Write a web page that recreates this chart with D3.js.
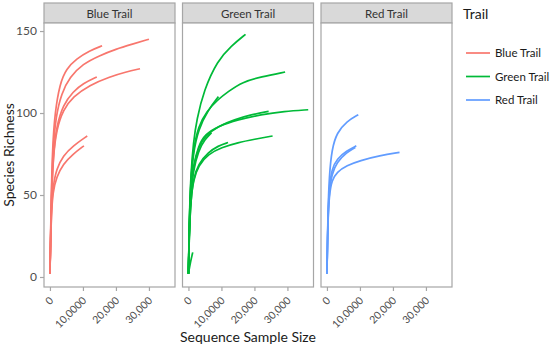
<!DOCTYPE html>
<html>
<head>
<meta charset="utf-8">
<script src="https://cdn.jsdelivr.net/npm/d3@7"></script>
<style>
  body { margin: 0; background: #fff; }
  svg text { font-family: Lato, "Open Sans", sans-serif; }
</style>
</head>
<body>
<svg id="chart"></svg>
<script>
// Chart data: one facet per trail, each a set of rarefaction curves [sample size, richness]
const trails = ["Blue Trail", "Green Trail", "Red Trail"];
const colors = ["#F8766D", "#00BA38", "#619CFF"];

const blueCurves = [
    [[0,2],[400,50],[800,80],[1500,100],[3000,118],[5000,127],[8000,133],[12000,138],[15800,141]],
    [[0,2],[400,48],[900,78],[1800,98],[3500,112],[6000,122],[10000,130],[15000,135],[20000,139],[25000,142],[30000,145]],
    [[0,2],[400,45],[1000,75],[2000,92],[4000,105],[7000,113],[10000,118],[14200,122]],
    [[0,2],[400,45],[1000,74],[2000,90],[4000,102],[7000,110],[12000,117],[18000,122],[23000,125],[27300,127]],
    [[0,2],[400,40],[900,55],[2000,66],[4000,74],[7000,80],[11300,86]],
    [[0,2],[400,38],[900,52],[2000,61],[4000,69],[7000,75],[10300,80]]
];

const greenCurves = [
    [[0,2],[300,40],[800,65],[1500,82],[2500,96],[4700,114],[8800,132],[13000,141],[17300,148]],
    [[0,2],[300,38],[800,62],[1500,78],[3000,92],[5500,101],[8800,108],[12000,113],[16400,119],[22000,122],[29300,125]],
    [[0,2],[300,38],[800,60],[1500,76],[3000,90],[6000,102],[9100,110]],
    [[0,2],[300,35],[800,55],[1500,68],[3000,80],[5000,87],[9000,92],[15000,96],[22000,99],[29000,101],[36300,102]],
    [[0,2],[300,35],[800,54],[1500,67],[3000,79],[5000,86],[9000,92],[14000,96],[19000,99],[24300,101]],
    [[0,2],[300,33],[800,52],[1500,65],[3000,77],[5000,84],[7000,88]],
    [[0,2],[300,30],[800,48],[1500,59],[3000,68],[6000,75],[10000,79],[15000,82],[20000,84],[25500,86]],
    [[0,2],[300,30],[800,48],[1500,60],[3000,69],[6000,76],[9000,80],[12000,82]],
    [[0,2],[600,9],[1300,15]]
];

const redCurves = [
    [[0,2],[300,40],[700,62],[1500,78],[3000,88],[6000,95],[9500,99]],
    [[0,2],[300,38],[700,55],[1500,66],[3000,72],[6000,77],[8900,80]],
    [[0,2],[300,36],[700,52],[1500,63],[3000,70],[6000,76],[8600,79]],
    [[0,2],[300,34],[700,50],[1500,59],[3000,64],[6000,68],[10000,71],[16000,74],[22000,76]]
];

const curvesByTrail = [blueCurves, greenCurves, redCurves];

const xTicks = [0, 10000, 20000, 30000];
const xTickLabels = ["0", "10,0000", "20,000", "30,000"];
const yTicks = [0, 50, 100, 150];

// Layout
const svgWidth = 550, svgHeight = 346;
const panelLefts = [44, 182.5, 321];
const panelWidth = 131;
const stripTop = 3, stripH = 20;
const plotTop = stripTop + stripH, plotBottom = 287;

const svg = d3.select("#chart")
    .attr("width", svgWidth)
    .attr("height", svgHeight);

const yScale = d3.scaleLinear()
    .domain([-6.1, 154.9])
    .range([plotBottom, plotTop]);

const line = d3.line().curve(d3.curveBasis);

trails.forEach((trail, i) => {
    const left = panelLefts[i];
    const xScale = d3.scaleLinear()
        .domain([-1800, 37900])
        .range([left, left + panelWidth]);

    // strip
    svg.append("rect")
        .attr("x", left).attr("y", stripTop)
        .attr("width", panelWidth).attr("height", stripH)
        .attr("fill", "#d9d9d9")
        .attr("stroke", "#a6a6a6").attr("stroke-width", 1.2);
    svg.append("text")
        .attr("x", left + panelWidth / 2).attr("y", stripTop + 14.5)
        .attr("text-anchor", "middle")
        .attr("font-size", 11.5).attr("fill", "#333")
        .text(trail);

    // panel
    svg.append("rect")
        .attr("x", left).attr("y", plotTop)
        .attr("width", panelWidth).attr("height", plotBottom - plotTop)
        .attr("fill", "#fff")
        .attr("stroke", "#a6a6a6").attr("stroke-width", 1.2);

    // curves
    line.x(d => xScale(d[0])).y(d => yScale(d[1]));
    svg.append("g").selectAll("path")
        .data(curvesByTrail[i])
        .enter().append("path")
        .attr("d", line)
        .attr("fill", "none")
        .attr("stroke", colors[i])
        .attr("stroke-width", 1.7);

    // x axis
    const xAxis = d3.axisBottom(xScale)
        .tickValues(xTicks)
        .tickSize(4)
        .tickFormat((d, k) => xTickLabels[k]);
    const gx = svg.append("g")
        .attr("transform", `translate(0,${plotBottom})`)
        .call(xAxis);
    gx.select(".domain").remove();
    gx.selectAll(".tick line").attr("stroke", "#a6a6a6").attr("stroke-width", 1.2);
    gx.selectAll(".tick text")
        .attr("font-size", 10.5).attr("fill", "#4d4d4d")
        .attr("text-anchor", "end")
        .attr("dy", "0.35em")
        .attr("transform", "translate(1,11.5) rotate(-45)")
        .attr("y", 0).attr("x", 0);
});

// y axis on first panel
const yAxis = d3.axisLeft(yScale).tickValues(yTicks).tickSize(4);
const gy = svg.append("g")
    .attr("transform", `translate(${panelLefts[0]},0)`)
    .call(yAxis);
gy.select(".domain").remove();
gy.selectAll(".tick line").attr("stroke", "#a6a6a6").attr("stroke-width", 1.2);
gy.selectAll(".tick text").attr("font-size", 12).attr("fill", "#4d4d4d");

// axis titles
svg.append("text")
    .attr("x", (panelLefts[0] + panelLefts[2] + panelWidth) / 2)
    .attr("y", 342)
    .attr("text-anchor", "middle")
    .attr("font-size", 14).attr("fill", "#1a1a1a")
    .text("Sequence Sample Size");

svg.append("text")
    .attr("transform", `translate(14,${(plotTop + plotBottom) / 2}) rotate(-90)`)
    .attr("text-anchor", "middle")
    .attr("font-size", 14).attr("fill", "#1a1a1a")
    .text("Species Richness");

// legend
const legend = svg.append("g");
legend.append("text")
    .attr("x", 463).attr("y", 19)
    .attr("font-size", 14).attr("fill", "#1a1a1a")
    .text("Trail");
trails.forEach((trail, i) => {
    const y = 53 + i * 23.5;
    legend.append("line")
        .attr("x1", 466).attr("x2", 490)
        .attr("y1", y).attr("y2", y)
        .attr("stroke", colors[i]).attr("stroke-width", 1.7);
    legend.append("text")
        .attr("x", 495).attr("y", y + 4)
        .attr("font-size", 11.5).attr("fill", "#1a1a1a")
        .text(trail);
});
</script>
</body>
</html>
